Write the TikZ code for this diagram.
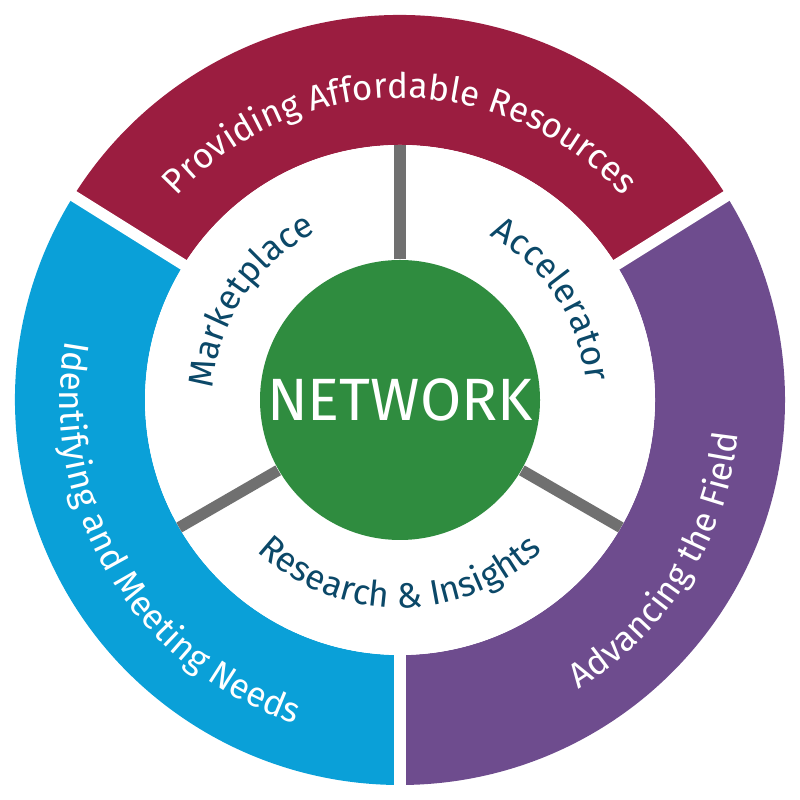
\documentclass[tikz,border=0pt]{standalone}
\usepackage{fontspec}
\setmainfont{Fira Sans}
\usetikzlibrary{decorations.text,calc}
\definecolor{cred}{HTML}{9B1D40}
\definecolor{cblue}{HTML}{0AA0D8}
\definecolor{cpurple}{HTML}{6E4C8E}
\definecolor{cgreen}{HTML}{2F8C3F}
\definecolor{ctext}{HTML}{0B4868}
\definecolor{cspoke}{HTML}{707070}
\tikzset{
 gap/.style={white,line width=3.2pt},
 spoke/.style={cspoke,line width=3.2pt},
 outtxt/.style={font=\fontsize{13}{15}\selectfont,decorate,decoration={text along path,text align=center,text color=white,text={#1}}},
 intxt/.style={font=\fontsize{12.5}{15}\selectfont,decorate,decoration={text along path,text align=center,text color=ctext,text={#1}}},
}
\begin{document}
\begin{tikzpicture}
\useasboundingbox (0,0) rectangle (8,8);
\coordinate (c) at (4,4);
\def\R{3.85}\def\r{2.55}
\fill[cred] ($(c)+(32:\R)$) arc (32:148:\R) -- ($(c)+(148:\r)$) arc (148:32:\r) -- cycle;
\fill[cblue] ($(c)+(148:\R)$) arc (148:270:\R) -- ($(c)+(270:\r)$) arc (270:148:\r) -- cycle;
\fill[cpurple] ($(c)+(270:\R)$) arc (270:392:\R) -- ($(c)+(392:\r)$) arc (392:270:\r) -- cycle;
\coordinate (g1a) at ($(c)+(32:2.5)$);  \coordinate (g1b) at ($(c)+(32:3.9)$);
\coordinate (g2a) at ($(c)+(148:2.5)$); \coordinate (g2b) at ($(c)+(148:3.9)$);
\coordinate (g3a) at ($(c)+(270:2.5)$); \coordinate (g3b) at ($(c)+(270:3.9)$);
\draw[gap] (g1a) -- (g1b);
\draw[gap] (g2a) -- (g2b);
\draw[gap] (g3a) -- (g3b);
\fill[white] (c) circle (\r);
\node[circle,minimum size=2.8cm,fill=cgreen,inner sep=0] (net) at (c) {};
\coordinate (s1) at ($(c)+(90:\r)$);
\coordinate (s2) at ($(c)+(210:\r)$);
\coordinate (s3) at ($(c)+(330:\r)$);
\draw[spoke] (net.90) -- (s1);
\draw[spoke] (net.210) -- (s2);
\draw[spoke] (net.330) -- (s3);
\node[white,font=\fontsize{17}{20}\selectfont] at (net) {NETWORK};
\path[outtxt={Providing Affordable Resources}] ($(c)+(150:3.02)$) arc (150:30:3.02);
\path[outtxt={Identifying and Meeting Needs}] ($(c)+(160:3.4)$) arc (160:262:3.4);
\path[outtxt={Advancing the Field}] ($(c)+(276:3.4)$) arc (276:380:3.4);
\path[intxt={Marketplace}] ($(c)+(178:1.87)$) arc (178:115:1.87);
\path[intxt={Accelerator}] ($(c)+(65:1.87)$) arc (65:2:1.87);
\path[intxt={Research {\&} Insights}] ($(c)+(218:2.08)$) arc (218:322:2.08);
\end{tikzpicture}
\end{document}
